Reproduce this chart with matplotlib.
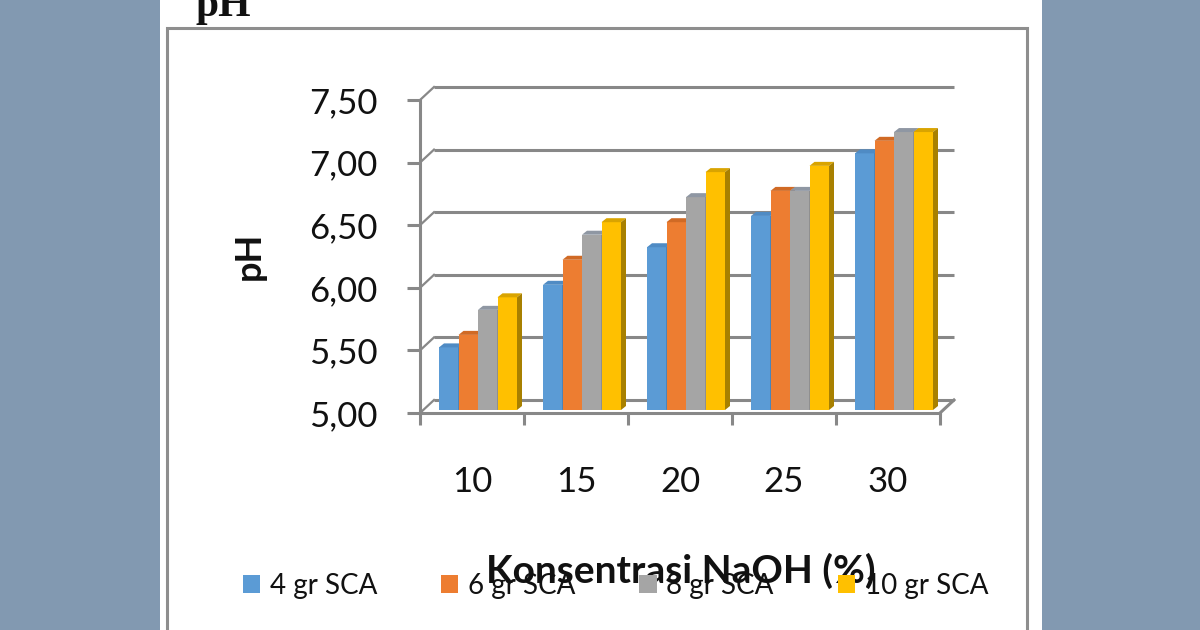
import matplotlib
matplotlib.use('Agg')
import matplotlib.pyplot as plt
from matplotlib.patches import Rectangle, Polygon
import numpy as np

# ---------------- data ----------------
categories = ['10', '15', '20', '25', '30']
series_names = ['4 gr SCA', '6 gr SCA', '8 gr SCA', '10 gr SCA']
ph_4gr = [5.50, 6.00, 6.30, 6.55, 7.05]
ph_6gr = [5.60, 6.20, 6.50, 6.75, 7.15]
ph_8gr = [5.80, 6.40, 6.70, 6.75, 7.22]
ph_10gr = [5.90, 6.50, 6.90, 6.95, 7.22]
y_ticks = [5.00, 5.50, 6.00, 6.50, 7.00, 7.50]
y_tick_labels = ['5,00', '5,50', '6,00', '6,50', '7,00', '7,50']
x_title = 'Konsentrasi NaOH (%)'
y_title = 'pH'
top_text = 'pH'

series = [ph_4gr, ph_6gr, ph_8gr, ph_10gr]
front_colors = ['#5b9bd5', '#ed7d31', '#a5a5a5', '#ffc000']
top_colors = ['#4f8bc4', '#d06a25', '#8f97a3', '#d9a400']
side_colors = ['#3f6f9e', '#a9561c', '#7a7a7a', '#a88000']

W, H = 1200, 630
fig = plt.figure(figsize=(W / 100, H / 100), dpi=100)
fig.patch.set_facecolor('#8299b1')


def fx(px):
    return px / W


def fy(py):
    return 1 - py / H


# white panel and chart frame (behind the axes)
fig.patches.append(Rectangle((fx(160), 0), fx(1042) - fx(160), 1, transform=fig.transFigure,
                             facecolor='white', edgecolor='none', zorder=-2))
fig.patches.append(Rectangle((fx(167), fy(680)), fx(1027) - fx(167), fy(28) - fy(680),
                             transform=fig.transFigure, facecolor='none',
                             edgecolor='#8e8e8e', lw=2.2, zorder=-1))

fig.text(fx(195), fy(16), top_text, family='Liberation Serif', weight='bold',
         fontsize=30, ha='left', va='baseline', color='#111111')

# axes = front plane of the 3-D box
ax_l, ax_r, ax_t, ax_b = 420, 940, 100, 413
ax = fig.add_axes([fx(ax_l), fy(ax_b), fx(ax_r) - fx(ax_l), fy(ax_t) - fy(ax_b)])
ax.set_zorder(1)
ax.set_xlim(0, len(categories))
ax.set_ylim(y_ticks[0], y_ticks[-1])
ax.patch.set_alpha(0)

ppx = (ax_r - ax_l) / len(categories)
ppy = (ax_b - ax_t) / (y_ticks[-1] - y_ticks[0])

gray = '#888888'
# back wall gridlines and side-wall diagonals
wx, wy = 14 / ppx, 13 / ppy
for t in y_ticks:
    ax.plot([wx, len(categories) + wx], [t + wy, t + wy], color=gray, lw=2.2,
            clip_on=False, zorder=1, solid_capstyle='butt')
    ax.plot([0, wx], [t, t + wy], color=gray, lw=1.6, clip_on=False, zorder=1)
ax.plot([len(categories), len(categories) + wx], [y_ticks[0], y_ticks[0] + wy],
        color=gray, lw=2.2, clip_on=False, zorder=1)

# bars (front face + top + side)
bx, by = 6 / ppx, 3 / ppy
dx, dy = 5 / ppx, 4 / ppy
group_w = 0.75
bw = group_w / len(series)
base = y_ticks[0]
xc = np.arange(len(categories)) + 0.5
for j, vals in enumerate(series):
    lefts = xc - group_w / 2 + j * bw + bx
    vals = np.asarray(vals)
    z = 3 + j
    ax.bar(lefts, vals - base, width=bw, bottom=base + by, align='edge',
           color=front_colors[j], edgecolor='none', zorder=z, clip_on=False,
           label=series_names[j])
    for L, v in zip(lefts, vals):
        top = v + by
        ax.add_patch(Polygon([(L, top), (L + bw, top), (L + bw + dx, top + dy), (L + dx, top + dy)],
                             closed=True, facecolor=top_colors[j], edgecolor='none',
                             zorder=z + 0.1, clip_on=False))
        ax.add_patch(Polygon([(L + bw, base + by), (L + bw + dx, base + by + dy),
                              (L + bw + dx, top + dy), (L + bw, top)],
                             closed=True, facecolor=side_colors[j], edgecolor='none',
                             zorder=z + 0.1, clip_on=False))

# front axes
for s in ['top', 'right']:
    ax.spines[s].set_visible(False)
for s in ['left', 'bottom']:
    ax.spines[s].set_color(gray)
    ax.spines[s].set_linewidth(2.2)
    ax.spines[s].set_zorder(10)

lab_font = 'Lato'
ax.set_yticks(y_ticks)
ax.set_yticklabels(y_tick_labels)
ax.tick_params(axis='y', direction='out', length=9.5, width=2.2, color=gray,
               pad=21, labelsize=25, labelcolor='#111111')
for lbl in ax.get_yticklabels():
    lbl.set_family(lab_font)

ax.set_xticks(np.arange(len(categories) + 1))
ax.set_xticklabels([])
ax.set_xticks(xc, minor=True)
ax.set_xticklabels(categories, minor=True)
ax.tick_params(axis='x', which='major', direction='out', length=8.6, width=2.2, color=gray)
ax.tick_params(axis='x', which='minor', length=0, pad=38, labelsize=25, labelcolor='#111111')
for lbl in ax.get_xticklabels(minor=True):
    lbl.set_family(lab_font)

fig.text(fx(249), fy(256), y_title, rotation=90, family=lab_font, weight='bold',
         fontsize=26, ha='center', va='center', color='#111111')

fig.text(fx(681), fy(583), x_title, family=lab_font, weight='bold', fontsize=28,
         ha='center', va='baseline', color='#111111', zorder=5)

handles = [Rectangle((0, 0), 1, 1, facecolor=c, edgecolor='none') for c in front_colors]
leg = fig.legend(handles, series_names, ncol=4, loc='center left',
                 bbox_to_anchor=(fx(243), fy(586)), frameon=False,
                 prop={'family': lab_font, 'size': 20}, handlelength=0.62,
                 handleheight=0.62, handletextpad=0.35, columnspacing=2.3,
                 borderpad=0, borderaxespad=0)
for t in leg.get_texts():
    t.set_color('#111111')

fig.savefig('out.png', dpi=100, facecolor=fig.get_facecolor())
